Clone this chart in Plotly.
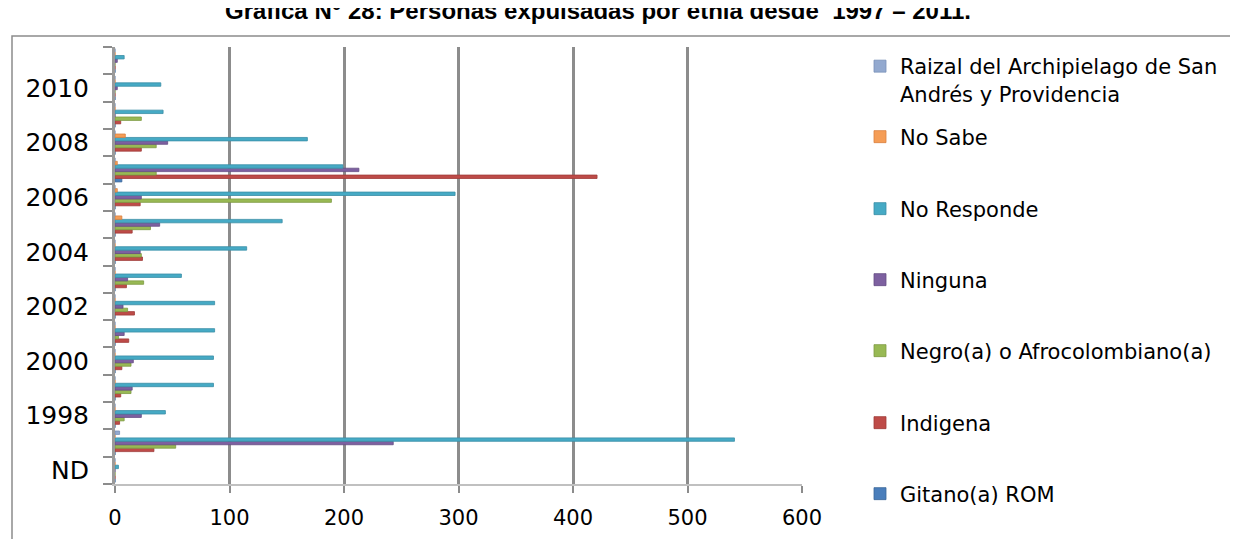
import plotly.graph_objects as go

categories = ["ND", "1997", "1998", "1999", "2000", "2001", "2002", "2003",
              "2004", "2005", "2006", "2007", "2008", "2009", "2010", "2011"]
tick_labels = ["ND", "", "1998", "", "2000", "", "2002", "", "2004", "",
               "2006", "", "2008", "", "2010", ""]

gitano = [0, 0, 0, 0, 0, 0, 0, 0, 0, 0, 0, 6, 0, 0, 0, 0]
indigena = [0, 34, 4, 5, 6, 12, 17, 10, 24, 15, 22, 421, 23, 5, 0, 0]
negro = [0, 53, 8, 14, 14, 3, 11, 25, 23, 31, 189, 36, 36, 23, 0, 0]
ninguna = [0, 243, 23, 15, 16, 8, 7, 11, 22, 39, 23, 213, 46, 0, 2, 2]
no_responde = [3, 541, 44, 86, 86, 87, 87, 58, 115, 146, 297, 199, 168, 42, 40, 8]
no_sabe = [0, 0, 0, 0, 0, 0, 0, 0, 0, 6, 2, 2, 9, 0, 0, 0]
raizal = [0, 4, 0, 0, 0, 0, 0, 0, 0, 0, 0, 0, 0, 0, 0, 0]

series = [
    ("Gitano(a) ROM", gitano, "#4A7EBB", "#3B6799"),
    ("Indigena", indigena, "#BE4B48", "#9E3B39"),
    ("Negro(a) o Afrocolombiano(a)", negro, "#98B954", "#7D9A43"),
    ("Ninguna", ninguna, "#7D60A0", "#654D84"),
    ("No Responde", no_responde, "#46AAC5", "#3A8EA6"),
    ("No Sabe", no_sabe, "#F59D56", "#D98240"),
    ("Raizal del Archipielago de San<br>Andrés y Providencia", raizal, "#93A9CF", "#7A90B8"),
]

# The page has an 8px body margin, so the figure is laid out 8px up/left.
W, H = 1230, 531
PL, PR, PT, PB = 107, 794, 39, 476  # plot area in figure pixels

# legend rows (figure pixel y of row centre) — layout only
legend_rows = [486, 415, 343, 272, 201, 129, 72]

fig = go.Figure()
layout_legends = {}
for i, (name, vals, color, edge) in enumerate(series):
    lid = "legend" if i == 0 else f"legend{i + 1}"
    fig.add_trace(go.Bar(
        y=categories, x=vals, name=name, orientation="h",
        marker=dict(color=color, line=dict(width=0.8, color=edge)),
        legend=lid,
    ))
    layout_legends[lid] = dict(
        xref="container", yref="container",
        x=852 / W, y=1 - legend_rows[i] / H,
        xanchor="left", yanchor="middle", valign="top",
        font=dict(family="DejaVu Sans", size=21, color="#000"),
        bgcolor="rgba(0,0,0,0)", borderwidth=0,
    )

pw, ph = PR - PL, PB - PT
fig.update_layout(
    width=W, height=H,
    paper_bgcolor="white", plot_bgcolor="white",
    margin=dict(l=PL, r=W - PR, t=PT, b=H - PB, autoexpand=False),
    barmode="group", bargap=0.12, bargroupgap=0,
    showlegend=True,
    title=dict(
        text="<b>Gráfica N° 28: Personas expulsadas por etnia desde  1997 – 2011.</b>",
        font=dict(family="Liberation Sans", size=24, color="#000"),
        xref="container", yref="container",
        x=590 / W, y=1 - 3 / H, xanchor="center", yanchor="middle",
    ),
    xaxis=dict(
        range=[0, 600], dtick=100, tick0=0, automargin=False,
        showgrid=True, gridcolor="#8C8C8C", gridwidth=2.5,
        zeroline=False,
        showline=True, linecolor="#C0C0C0", linewidth=2,
        ticks="outside", ticklen=7, tickwidth=2, tickcolor="#8C8C8C",
        tickfont=dict(family="DejaVu Sans", size=21, color="#000"),
        ticklabelstandoff=7,
    ),
    yaxis=dict(
        type="category", automargin=False,
        categoryorder="array", categoryarray=categories,
        tickmode="array", tickvals=categories, ticktext=tick_labels,
        tickson="boundaries",
        showgrid=False, zeroline=False,
        showline=True, linecolor="#9A9A9A", linewidth=3,
        ticks="outside", ticklen=9, tickwidth=2, tickcolor="#8C8C8C",
        tickfont=dict(family="DejaVu Sans", size=25, color="#000"),
        ticklabelstandoff=18,
    ),
    shapes=[dict(
        type="rect", xref="paper", yref="paper",
        x0=(4 - PL) / pw, x1=(1250 - PL) / pw,
        y0=(PB - 560) / ph, y1=(PB - 28) / ph,
        line=dict(color="#8C8C8C", width=1.5), fillcolor="rgba(0,0,0,0)",
        layer="below",
    )],
    **layout_legends,
)

fig.write_html("out.html")
